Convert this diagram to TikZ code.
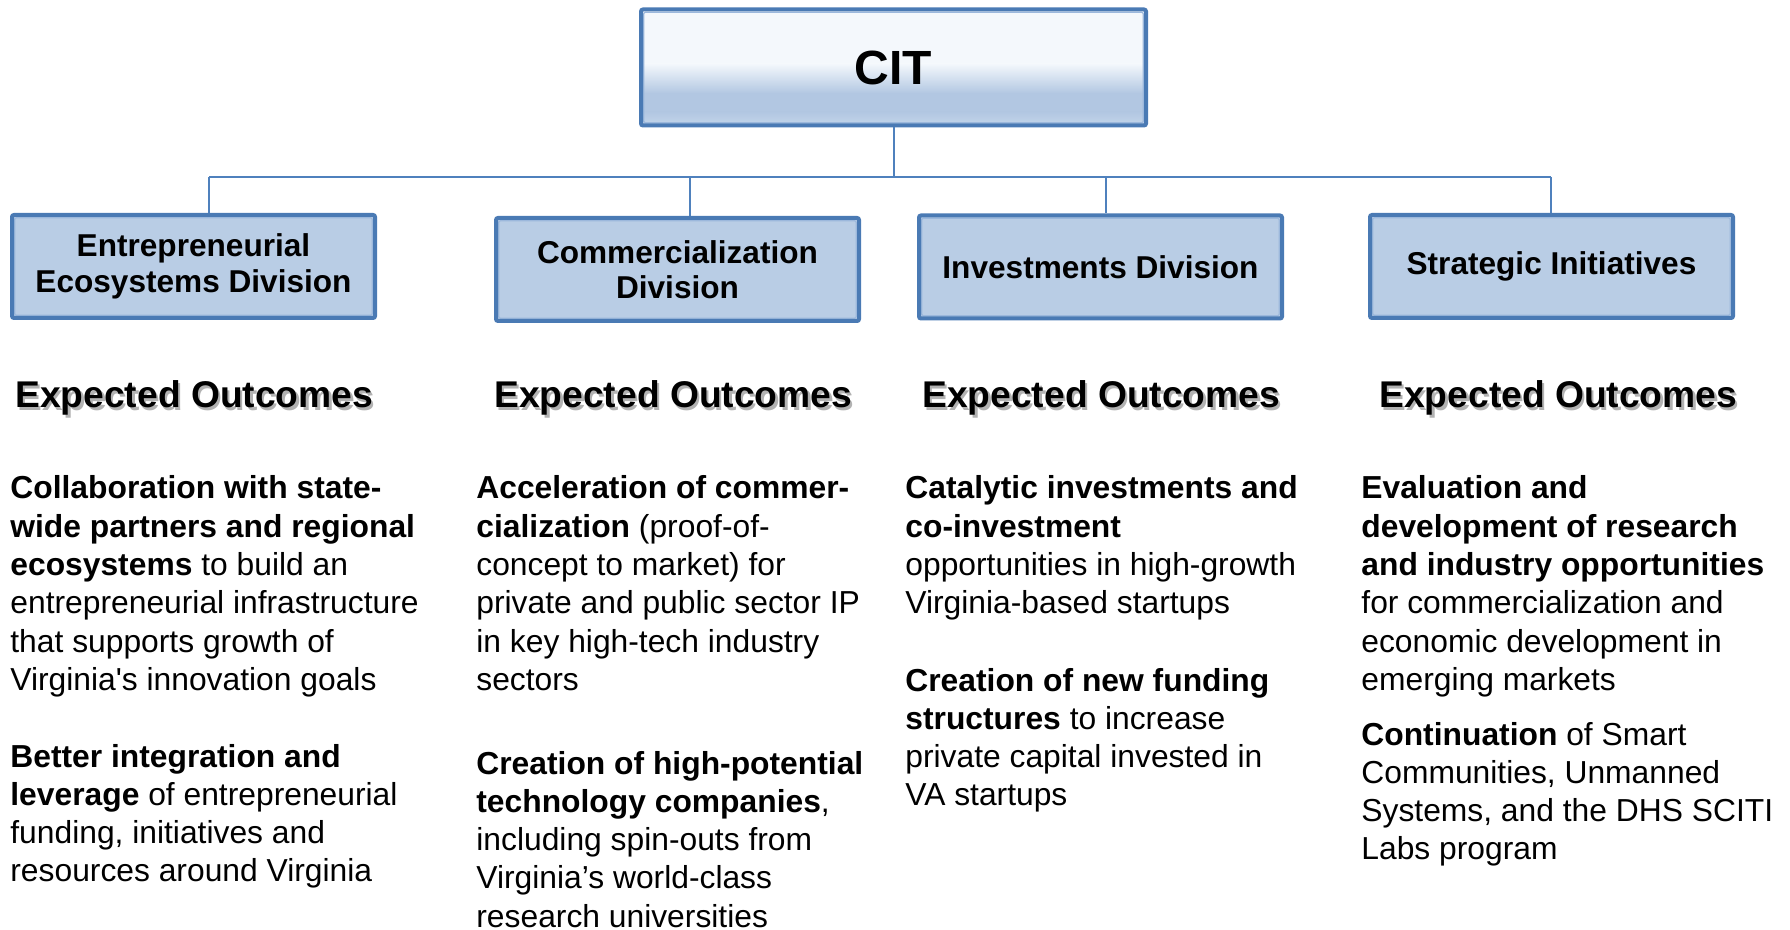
\documentclass[tikz,border=0pt]{standalone}
\usepackage{fontspec}
\setmainfont{Liberation Sans}
\newfontfamily\plainsans{Liberation Sans}
\definecolor{boxfill}{HTML}{B9CDE5}
\definecolor{boxline}{HTML}{4A7AB4}
\definecolor{boxhi}{HTML}{9CB8DC}
\definecolor{connblue}{HTML}{4F81BD}
\definecolor{cittop}{HTML}{F4F8FC}
\definecolor{citmid}{HTML}{B2C7E2}
\definecolor{citbot}{HTML}{C3D5EA}
\newcommand{\ptext}[1]{\parbox[t]{240pt}{\raggedright #1}}
\newcommand{\straightq}{{\plainsans'}}
\begin{document}
\begin{tikzpicture}[x=0.5pt,y=-0.5pt,
  innerhi/.style={path picture={\draw[boxhi, line width=0.6pt]
      ([shift={(1.35pt,1.35pt)}]path picture bounding box.south west) rectangle
      ([shift={(-1.35pt,-1.35pt)}]path picture bounding box.north east);}},
  division/.style={draw=boxline, line width=2pt, fill=boxfill, rounded corners=1pt,
    innerhi, minimum width=181.5pt, minimum height=51.5pt, inner sep=0pt, align=center,
    font=\fontsize{15.8}{17.7}\selectfont\bfseries},
  citbox/.style={draw=boxline, line width=2pt, rounded corners=1pt, innerhi,
    minimum width=252.5pt, minimum height=58pt, inner sep=0pt,
    font=\fontsize{24}{28}\selectfont\bfseries},
  connector/.style={draw=connblue, line width=1pt},
  heading/.style={anchor=base west, inner sep=0pt, font=\fontsize{18.6}{21}\selectfont\bfseries},
  headshadow/.style={heading, text=black!30},
  para/.style={anchor=base west, inner sep=0pt, font=\fontsize{15.9}{19.15}\selectfont}
]
\useasboundingbox (0,0) rectangle (1790,930);

% CIT box gradient fill
\fill[cittop] (641,11) rectangle (1146,64);
\shade[top color=cittop, bottom color=citmid] (641,63.5) rectangle (1146,93.5);
\fill[citmid] (641,93) rectangle (1146,112.5);
\shade[top color=citmid, bottom color=citbot] (641,112) rectangle (1146,125);
\node[citbox] (cit) at (893.5,67.5) {CIT};

% connectors
\coordinate (bus) at (893.5,177);
\coordinate (j1) at (209,177);
\coordinate (j2) at (690,177);
\coordinate (j3) at (1106,177);
\coordinate (j4) at (1551,177);

\node[division] (b1) at (193.5,266.5) {Entrepreneurial\\Ecosystems Division};
\node[division] (b2) at (677.5,269.5) {Commercialization\\Division};
\node[division] (b3) at (1100.5,267) {Investments Division};
\node[division] (b4) at (1551.5,266.5) {Strategic Initiatives};

\draw[connector] (cit.south) -- (bus);
\draw[connector] (j1) -- (j4);
\draw[connector] (j1) -- (j1 |- b1.north);
\draw[connector] (j2) -- (j2 |- b2.north);
\draw[connector] (j3) -- (j3 |- b3.north);
\draw[connector] (j4) -- (j4 |- b4.north);

% headings with shadow
\node[headshadow] (eo1s) at (17.5,410.5) {Expected Outcomes};
\node[heading] (eo1) at (15,408) {Expected Outcomes};
\node[headshadow] (eo2s) at (496.5,410.5) {Expected Outcomes};
\node[heading] (eo2) at (494,408) {Expected Outcomes};
\node[headshadow] (eo3s) at (924.5,410.5) {Expected Outcomes};
\node[heading] (eo3) at (922,408) {Expected Outcomes};
\node[headshadow] (eo4s) at (1381.5,410.5) {Expected Outcomes};
\node[heading] (eo4) at (1379,408) {Expected Outcomes};

% column 1
\node[para] (c1a) at (10,499) {\ptext{\textbf{Collaboration with state-}\\\textbf{wide partners and regional}\\\textbf{ecosystems} to build an\\entrepreneurial infrastructure\\that supports growth of\\Virginia\straightq s innovation goals}};
\node[para] (c1b) at (10,767) {\ptext{\textbf{Better integration and}\\\textbf{leverage} of entrepreneurial\\funding, initiatives and\\resources around Virginia}};

% column 2
\node[para] (c2a) at (476,499) {\ptext{\textbf{Acceleration of commer-}\\\textbf{cialization} (proof-of-\\concept to market) for\\private and public sector IP\\in key high-tech industry\\sectors}};
\node[para] (c2b) at (476,774) {\ptext{\textbf{Creation of high-potential}\\\textbf{technology companies},\\including spin-outs from\\Virginia’s world-class\\research universities}};

% column 3
\node[para] (c3a) at (905,499) {\ptext{\textbf{Catalytic investments and}\\\textbf{co-investment}\\opportunities in high-growth\\Virginia-based startups}};
\node[para] (c3b) at (905,691) {\ptext{\textbf{Creation of new funding}\\\textbf{structures} to increase\\private capital invested in\\VA startups}};

% column 4
\node[para] (c4a) at (1361,499) {\ptext{\textbf{Evaluation and}\\\textbf{development of research}\\\textbf{and industry opportunities}\\for commercialization and\\economic development in\\emerging markets}};
\node[para] (c4b) at (1361,745) {\ptext{\textbf{Continuation} of Smart\\Communities, Unmanned\\Systems, and the DHS SCITI\\Labs program}};
\end{tikzpicture}
\end{document}
